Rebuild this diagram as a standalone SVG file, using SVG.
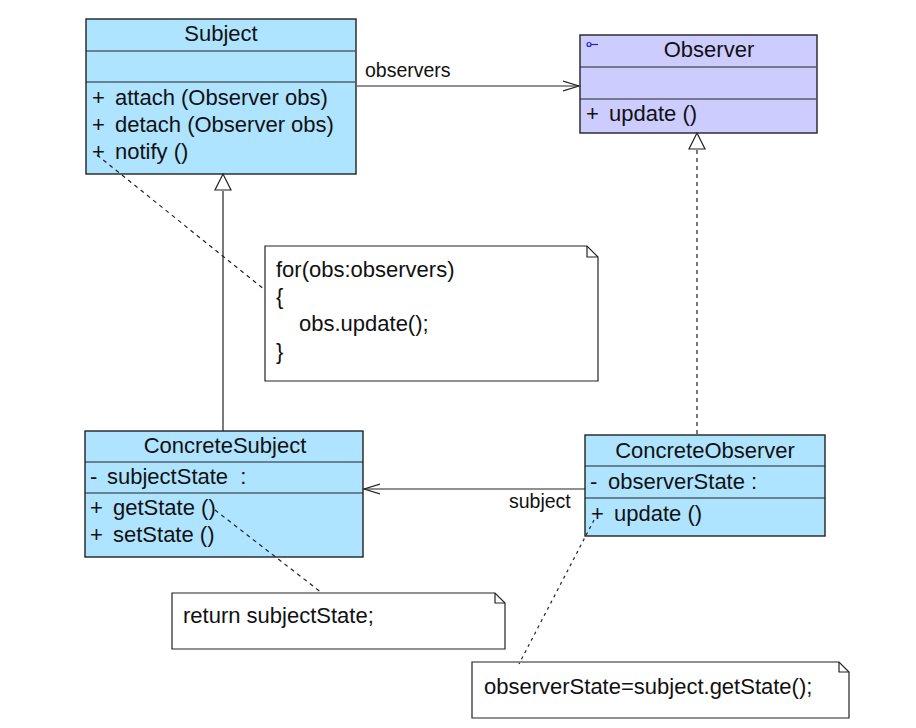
<svg xmlns="http://www.w3.org/2000/svg" width="916" height="728" viewBox="0 0 916 728">
<style>
text{font-family:"Liberation Sans",Arial,sans-serif;font-size:22px;fill:#111}
.c{text-anchor:middle}
.label{font-size:19.500px}
.box{fill:#aee4ff;stroke:#222;stroke-width:1.4}
.iface{fill:#ccccff;stroke:#222;stroke-width:1.4}
.sep{stroke:#222;stroke-width:1.2;fill:none}
.note{fill:#fff;stroke:#222;stroke-width:1.2}
.line{fill:none;stroke:#222;stroke-width:1.2}
.dash{fill:none;stroke:#222;stroke-width:1.2;stroke-dasharray:4 4}
.tri{fill:#fff;stroke:#222;stroke-width:1.2}
</style>
<defs>
<marker id="open" markerWidth="18" markerHeight="12" refX="16" refY="6" orient="auto" markerUnits="userSpaceOnUse"><path d="M0 1 L16 6 L0 11" fill="none" stroke="#222" stroke-width="1.2"/></marker>
</defs>
<g id="subject">
<rect class="box" x="86" y="19" width="270" height="155"/>
<path class="sep" d="M86 51H355M86 82H355"/>
<text class="c" x="221" y="41">Subject</text>
<text x="92" y="105">+</text><text x="115" y="105">attach (Observer obs)</text>
<text x="92" y="132">+</text><text x="115" y="132">detach (Observer obs)</text>
<text x="92" y="159">+</text><text x="115" y="159">notify ()</text>
</g>
<g id="observer">
<rect class="iface" x="580" y="35" width="237" height="98"/>
<path class="sep" d="M580 67H816M580 99H816"/>
<circle cx="589" cy="44.500" r="2" fill="none" stroke="#2222cc" stroke-width="1.2"/>
<path d="M591 44.500H598" stroke="#2222cc" stroke-width="1.2"/>
<text class="c" x="709" y="57">Observer</text>
<text x="586" y="121">+</text><text x="609" y="121">update ()</text>
</g>
<g id="concrete-subject">
<rect class="box" x="85" y="431" width="278" height="126"/>
<path class="sep" d="M85 462H363M85 493H363"/>
<text class="c" x="225" y="453">ConcreteSubject</text>
<text x="90" y="484">-</text><text x="107" y="484">subjectState&#160; :</text>
<text x="90" y="515">+</text><text x="113" y="515">getState ()</text>
<text x="90" y="542">+</text><text x="113" y="542">setState ()</text>
</g>
<g id="concrete-observer">
<rect class="box" x="585" y="435" width="240" height="101"/>
<path class="sep" d="M585 466H825M585 498H825"/>
<text class="c" x="705" y="458">ConcreteObserver</text>
<text x="590" y="489">-</text><text x="608" y="489">observerState  :</text>
<text x="591" y="521">+</text><text x="614" y="521">update ()</text>
</g>
<g id="note-notify">
<path class="note" d="M265 246H587L598 257V381H265Z"/>
<path class="sep" d="M587 246V257H598"/>
<text x="276" y="277">for(obs:observers)</text>
<text x="276" y="304">{</text>
<text x="299" y="331">obs.update();</text>
<text x="276" y="359">}</text>
</g>
<g id="note-get-state">
<path class="note" d="M172 593H495L505 603V649H172Z"/>
<path class="sep" d="M495 593V603H505"/>
<text x="183" y="623">return subjectState;</text>
</g>
<g id="note-update">
<path class="note" d="M472 662H839L849 672V718H472Z"/>
<path class="sep" d="M839 662V672H849"/>
<text x="484" y="694">observerState=subject.getState();</text>
</g>
<g id="connectors">
<path class="line" d="M357 86H579" marker-end="url(#open)"/>
<path class="line" d="M223 191V431"/>
<path class="tri" d="M223 174L215 190H231Z"/>
<path class="dash" d="M697 150V435"/>
<path class="tri" d="M697 133L689 149H705Z"/>
<path class="line" d="M585 489H364" marker-end="url(#open)"/>
<path class="dash" d="M97 155L265 290"/>
<path class="dash" d="M215 510L322 593"/>
<path class="dash" style="stroke-dasharray:3 4" d="M594 520L519 664"/>
<text class="label" x="365" y="77">observers</text>
<text class="label" x="509" y="508">subject</text>
</g>
</svg>
